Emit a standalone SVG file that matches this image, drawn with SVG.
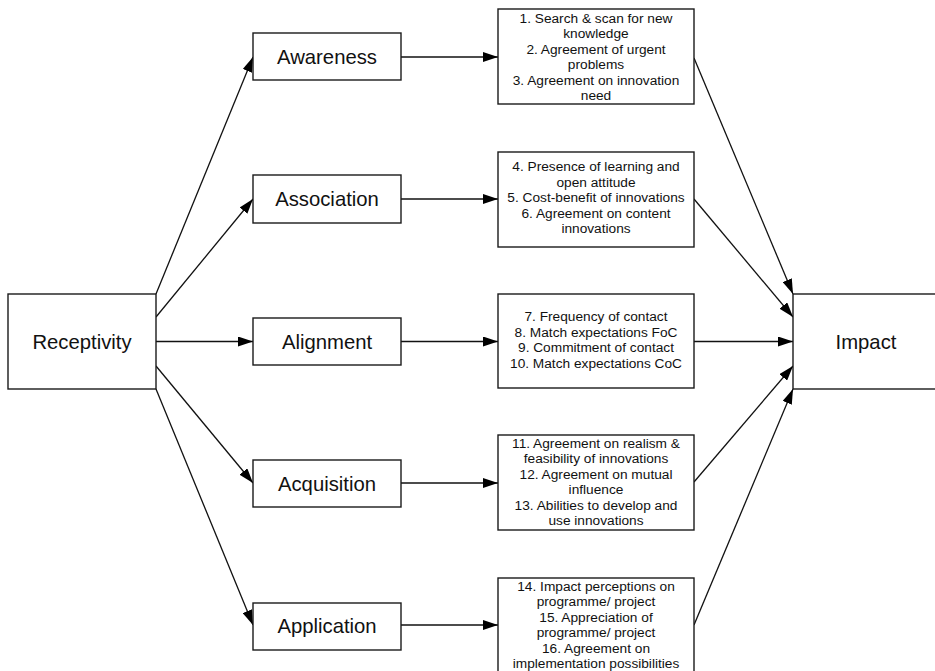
<svg xmlns="http://www.w3.org/2000/svg" width="935" height="671" viewBox="0 0 935 671">
<style>
.box{fill:#fff;stroke:#1a1a1a;stroke-width:1.4}
.big{font-family:"Liberation Sans",Arial,sans-serif;font-size:20.3px;fill:#111;text-anchor:middle}
.sm{font-family:"Liberation Sans",Arial,sans-serif;font-size:13.7px;fill:#111;text-anchor:middle}
.edge{stroke:#111;stroke-width:1.3;fill:none;marker-end:url(#ah)}
</style>
<defs>
<marker id="ah" viewBox="0 0 15 10" refX="15" refY="5" markerWidth="15" markerHeight="10" markerUnits="userSpaceOnUse" orient="auto">
<path d="M0,0 L15,5 L0,10 z" fill="#000"/>
</marker>
</defs>
<rect width="935" height="671" fill="#fff"/>
<g id="connectors">
<line class="edge" x1="156" y1="294" x2="253" y2="57"/>
<line class="edge" x1="156" y1="317" x2="253" y2="199"/>
<line class="edge" x1="156" y1="341.5" x2="253" y2="341.5"/>
<line class="edge" x1="156" y1="366" x2="253" y2="483"/>
<line class="edge" x1="156" y1="389" x2="253" y2="625"/>
<line class="edge" x1="401" y1="57" x2="498" y2="57"/>
<line class="edge" x1="401" y1="199" x2="498" y2="199"/>
<line class="edge" x1="401" y1="341.5" x2="498" y2="341.5"/>
<line class="edge" x1="401" y1="483" x2="498" y2="483"/>
<line class="edge" x1="401" y1="625" x2="498" y2="625"/>
<line class="edge" x1="694" y1="58" x2="793" y2="294"/>
<line class="edge" x1="694" y1="199" x2="793" y2="317"/>
<line class="edge" x1="694" y1="341.5" x2="793" y2="341.5"/>
<line class="edge" x1="694" y1="482" x2="793" y2="366"/>
<line class="edge" x1="694" y1="625" x2="793" y2="389"/>
</g>
<g id="receptivity">
<rect class="box" x="8" y="294" width="148" height="95"/>
<text class="big" x="82" y="349">Receptivity</text>
</g>
<g id="impact">
<rect class="box" x="793" y="294" width="146" height="95"/>
<text class="big" x="866" y="349">Impact</text>
</g>
<g id="awareness">
<rect class="box" x="253" y="33" width="148" height="47"/>
<text class="big" x="327" y="64">Awareness</text>
</g>
<g id="association">
<rect class="box" x="253" y="175" width="148" height="48"/>
<text class="big" x="327" y="206">Association</text>
</g>
<g id="alignment">
<rect class="box" x="253" y="318" width="148" height="47"/>
<text class="big" x="327" y="348.5">Alignment</text>
</g>
<g id="acquisition">
<rect class="box" x="253" y="460" width="148" height="47"/>
<text class="big" x="327" y="490.5">Acquisition</text>
</g>
<g id="application">
<rect class="box" x="253" y="603" width="148" height="47"/>
<text class="big" x="327" y="633">Application</text>
</g>
<g id="awareness-items">
<rect class="box" x="498" y="9" width="196" height="95"/>
<text class="sm" x="596" y="22.5">1. Search &amp; scan for new</text>
<text class="sm" x="596" y="38">knowledge</text>
<text class="sm" x="596" y="53.5">2. Agreement of urgent</text>
<text class="sm" x="596" y="69">problems</text>
<text class="sm" x="596" y="84.5">3. Agreement on innovation</text>
<text class="sm" x="596" y="100">need</text>
</g>
<g id="association-items">
<rect class="box" x="498" y="152" width="196" height="95"/>
<text class="sm" x="596" y="171.2">4. Presence of learning and</text>
<text class="sm" x="596" y="186.7">open attitude</text>
<text class="sm" x="596" y="202.2">5. Cost-benefit of innovations</text>
<text class="sm" x="596" y="217.7">6. Agreement on content</text>
<text class="sm" x="596" y="233.2">innovations</text>
</g>
<g id="alignment-items">
<rect class="box" x="498" y="294" width="196" height="94"/>
<text class="sm" x="596" y="321.3">7. Frequency of contact</text>
<text class="sm" x="596" y="336.8">8. Match expectations FoC</text>
<text class="sm" x="596" y="352.3">9. Commitment of contact</text>
<text class="sm" x="596" y="367.8">10. Match expectations CoC</text>
</g>
<g id="acquisition-items">
<rect class="box" x="498" y="435" width="196" height="95"/>
<text class="sm" x="596" y="447.5">11. Agreement on realism &amp;</text>
<text class="sm" x="596" y="463">feasibility of innovations</text>
<text class="sm" x="596" y="478.5">12. Agreement on mutual</text>
<text class="sm" x="596" y="494">influence</text>
<text class="sm" x="596" y="509.5">13. Abilities to develop and</text>
<text class="sm" x="596" y="525">use innovations</text>
</g>
<g id="application-items">
<rect class="box" x="498" y="578" width="196" height="95"/>
<text class="sm" x="596" y="590.8">14. Impact perceptions on</text>
<text class="sm" x="596" y="606.3">programme/ project</text>
<text class="sm" x="596" y="621.8">15. Appreciation of</text>
<text class="sm" x="596" y="637.3">programme/ project</text>
<text class="sm" x="596" y="652.8">16. Agreement on</text>
<text class="sm" x="596" y="668.3">implementation possibilities</text>
</g>
</svg>
